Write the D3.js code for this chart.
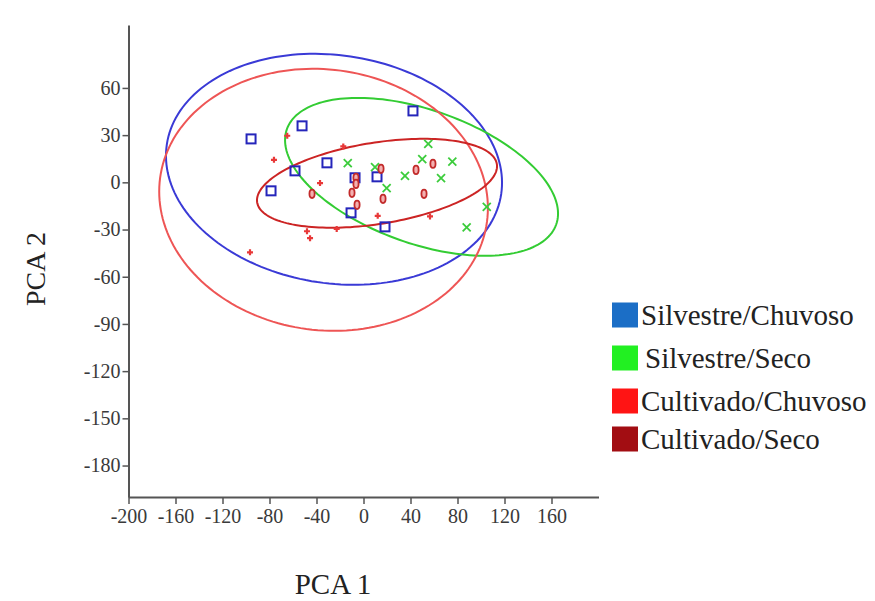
<!DOCTYPE html>
<html>
<head>
<meta charset="utf-8">
<script src="https://cdn.jsdelivr.net/npm/d3@7"></script>
<style>
  html, body { margin: 0; padding: 0; background: #fff; }
  svg { display: block; }
</style>
</head>
<body>
<svg id="chart" width="875" height="601"></svg>
<script>
// ---- data ----
const groups = ["Silvestre/Chuvoso", "Silvestre/Seco", "Cultivado/Chuvoso", "Cultivado/Seco"];
const xTicks = [-200, -160, -120, -80, -40, 0, 40, 80, 120, 160];
const yTicks = [60, 30, 0, -30, -60, -90, -120, -150, -180];

const silvestreChuvoso = [
  [-95.7, 27.6], [-52.3, 35.9], [42.1, 45.4], [-31.1, 12.4], [-58.3, 7.3],
  [-78.7, -5.4], [-7.2, 2.9], [11.5, 3.5], [-10.6, -19.4], [18.3, -28.3]
];
const silvestreSeco = [
  [55.1, 24.5], [50.0, 14.7], [75.6, 13.2], [-13.4, 12.2], [9.8, 9.7],
  [35.3, 4.1], [66.0, 2.7], [19.7, -3.7], [87.8, -28.7], [104.9, -15.6]
];
const cultivadoChuvoso = [
  [-64.9, 29.6], [-76.2, 14.3], [-37.0, -0.5], [-17.2, 22.8], [-48.1, -31.1],
  [-45.5, -35.5], [-22.8, -29.6], [12.1, -21.3], [56.6, -21.7], [-96.6, -44.5]
];
const cultivadoSeco = [
  [-43.8, -7.3], [-9.8, -6.7], [-6.4, 2.9], [-6.4, -1.0], [-5.5, -14.3],
  [14.9, 8.6], [16.6, -10.5], [44.7, 7.9], [51.5, -7.3], [59.1, 11.8]
];

// confidence ellipses: center [x,y], major semi-axis vector, minor semi-axis vector (data units)
const ellipseCenters = [[-25.1, 8.3], [49.4, 3.5], [-34.0, -11.1], [11.5, -0.6]];
const ellipseMajor   = [[142.3, -15.7], [114.6, -30.3], [139.1, -13.9], [102.0, 12.2]];
const ellipseMinor   = [[-14.1, -71.7], [-19.0, -40.0], [-14.6, -82.1], [5.5, -25.5]];

// ---- styling ----
const legendColors  = ["#1b6ec6", "#22f022", "#ff1414", "#a20d12"];
const ellipseColors = ["#3a3ad6", "#33cc33", "#ee5555", "#cc2424"];
const markColors    = ["#2525bb", "#3ccc3c", "#e83838", "#c22a2a"];

const svg = d3.select("#chart");
const x = d3.scaleLinear().domain([-200, 200]).range([128.5, 598.5]);
const y = d3.scaleLinear().domain([-200, 100]).range([497, 25]);

const serif = "'Liberation Serif', 'Times New Roman', Times, serif";

// ellipses
const ts = d3.range(0, 2 * Math.PI, Math.PI / 90);
const line = d3.line().x(d => x(d[0])).y(d => y(d[1])).curve(d3.curveLinearClosed);
ellipseCenters.forEach((c, i) => {
  const u = ellipseMajor[i], v = ellipseMinor[i];
  const pts = ts.map(t => [c[0] + u[0] * Math.cos(t) + v[0] * Math.sin(t),
                           c[1] + u[1] * Math.cos(t) + v[1] * Math.sin(t)]);
  svg.append("path").attr("d", line(pts))
    .attr("fill", "none").attr("stroke", ellipseColors[i]).attr("stroke-width", 2);
});

// points
const gP = svg.append("g");
gP.selectAll(".sq").data(silvestreChuvoso).enter().append("rect")
  .attr("x", d => x(d[0]) - 4.5).attr("y", d => y(d[1]) - 4.5)
  .attr("width", 9).attr("height", 9)
  .attr("fill", "none").attr("stroke", markColors[0]).attr("stroke-width", 2);

silvestreSeco.forEach(d => {
  const cx = x(d[0]), cy = y(d[1]);
  gP.append("path").attr("d", `M${cx-4},${cy-4}L${cx+4},${cy+4}M${cx-4},${cy+4}L${cx+4},${cy-4}`)
    .attr("stroke", markColors[1]).attr("stroke-width", 1.8).attr("fill", "none");
});

cultivadoChuvoso.forEach(d => {
  const cx = x(d[0]), cy = y(d[1]);
  gP.append("path").attr("d", `M${cx-3},${cy}L${cx+3},${cy}M${cx},${cy-3}L${cx},${cy+3}`)
    .attr("stroke", markColors[2]).attr("stroke-width", 2.2).attr("fill", "none");
});

gP.selectAll(".ov").data(cultivadoSeco).enter().append("ellipse")
  .attr("cx", d => x(d[0])).attr("cy", d => y(d[1]))
  .attr("rx", 2.6).attr("ry", 4.2)
  .attr("fill", "#f3b0b0").attr("stroke", markColors[3]).attr("stroke-width", 1.8);

// axes
const axisColor = "#555";
const fmt = d => String(d);
const gx = svg.append("g").attr("transform", "translate(0,497)")
  .call(d3.axisBottom(x).tickValues(xTicks).tickFormat(fmt).tickSize(7).tickPadding(5).tickSizeOuter(0));
const gy = svg.append("g").attr("transform", "translate(128.5,0)")
  .call(d3.axisLeft(y).tickValues(yTicks).tickFormat(fmt).tickSize(6).tickPadding(2).tickSizeOuter(0));
[gx, gy].forEach(g => {
  g.select(".domain").attr("stroke", axisColor).attr("stroke-width", 2);
  g.selectAll(".tick line").attr("stroke", axisColor).attr("stroke-width", 1.5);
  g.selectAll(".tick text").attr("fill", "#3a3a3a")
    .style("font-family", serif).style("font-size", "20px");
});

// axis titles
svg.append("text").text("PCA 1")
  .attr("x", 333).attr("y", 594).attr("text-anchor", "middle")
  .style("font-family", serif).style("font-size", "29px").attr("fill", "#222");
svg.append("text").text("PCA 2")
  .attr("transform", "translate(45,269) rotate(-90)").attr("text-anchor", "middle")
  .style("font-family", serif).style("font-size", "28px").attr("fill", "#222");

// legend
const legendY = [315, 358, 401, 439];
const gL = svg.append("g");
groups.forEach((g, i) => {
  gL.append("rect").attr("x", 612).attr("y", legendY[i] - 12.5)
    .attr("width", 26).attr("height", 25).attr("fill", legendColors[i]);
  gL.append("text").text(g)
    .attr("x", i === 1 ? 645 : 641).attr("y", legendY[i]).attr("dy", "0.35em")
    .style("font-family", serif).style("font-size", "29px").attr("fill", "#222");
});
</script>
</body>
</html>
